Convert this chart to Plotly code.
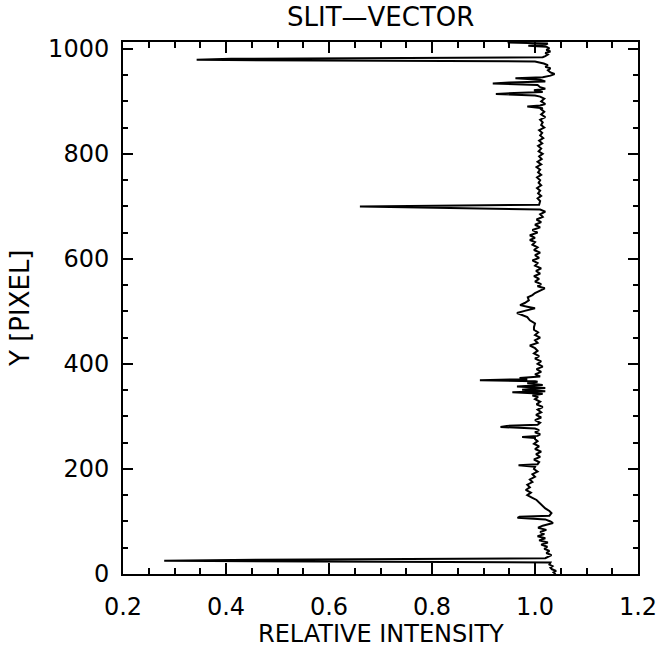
import plotly.graph_objects as go

# Y pixel positions along the slit (bottom -> top)
pixel_y = [
    0, 3, 6, 9, 12, 15, 18, 21, 22, 25, 27, 30,
    33, 36, 40, 44, 48, 52, 56, 60, 64, 68,
    72, 76, 80, 84, 88, 92, 97, 100, 104, 107,
    109, 111, 116, 120, 125, 130, 135, 141, 145, 150,
    155, 160, 165, 170, 175, 180, 185, 190, 195, 200,
    204, 207, 209, 213, 218, 223, 228, 233, 238, 243,
    248, 253, 257, 259, 261, 263, 266, 270, 274, 277,
    280, 282, 284, 288, 293, 298, 303, 308, 313, 318,
    323, 328, 333, 337, 340, 343, 346, 348, 351, 354,
    357, 360, 363, 366, 367, 369, 371, 373, 376, 380,
    385, 390, 395, 400, 405, 410, 415, 420, 425, 430,
    435, 440, 445, 450, 455, 460, 465, 470, 477, 483,
    489, 493, 497, 501, 506, 509, 512, 516, 521, 527,
    531, 535, 540, 544, 548, 552, 557, 562, 567, 572,
    577, 582, 587, 592, 597, 602, 607, 612, 617, 622,
    627, 632, 636, 640, 645, 650, 655, 660, 665, 670,
    675, 680, 685, 690, 694, 697, 700, 703, 710, 715,
    720, 725, 730, 735, 740, 745, 750, 755, 760, 765,
    770, 775, 780, 785, 790, 795, 800, 805, 810, 815,
    820, 825, 830, 835, 840, 845, 850, 855, 860, 865,
    870, 875, 880, 885, 887, 890, 892, 895, 900, 905,
    909, 911, 914, 916, 918, 921, 924, 927, 931, 934,
    936, 938, 941, 944, 946, 949, 952, 955, 959, 963,
    966, 969, 972, 976, 979, 981, 984, 986, 989, 992,
    995, 998, 1001, 1004, 1006, 1008, 1010, 1012, 1013,
]

# Relative intensity at each pixel
rel_intensity = [
    1.040, 1.036, 1.041, 1.033, 1.030, 1.034, 1.028, 1.031, 1.030, 0.280, 0.460, 1.020,
    1.025, 1.032, 1.022, 1.028, 1.018, 1.024, 1.012, 1.025, 1.008, 1.020,
    1.005, 1.018, 1.010, 1.022, 1.006, 1.015, 1.035, 1.030, 1.020, 0.966,
    0.970, 1.028, 1.032, 1.028, 1.020, 1.015, 1.008, 1.003, 0.995, 0.985,
    0.992, 0.982, 0.990, 0.985, 0.995, 0.990, 1.000, 0.995, 1.005, 0.998,
    1.000, 0.968, 1.005, 1.008, 0.998, 1.010, 1.002, 1.012, 1.000, 1.008,
    0.998, 1.005, 1.000, 1.000, 0.975, 1.005, 1.010, 1.000, 1.008, 1.000,
    0.933, 0.945, 1.005, 1.010, 1.000, 1.012, 1.002, 1.012, 1.005, 1.015,
    1.003, 1.010, 1.000, 1.006, 0.995, 1.015, 0.956, 1.020, 0.975, 1.020,
    0.965, 1.015, 0.985, 1.005, 1.000, 0.893, 0.985, 0.970, 1.010, 1.000,
    1.012, 1.003, 1.015, 1.005, 1.012, 1.000, 1.008, 0.998, 1.005, 1.000,
    0.990, 1.005, 1.000, 1.010, 1.000, 1.006, 0.998, 0.998, 1.000, 0.990,
    0.985, 0.975, 0.965, 0.980, 1.000, 0.985, 0.971, 0.980, 0.988, 0.986,
    0.995, 1.000, 1.010, 1.019, 1.005, 1.012, 1.000, 1.008, 0.998, 1.010,
    1.002, 1.012, 1.000, 1.005, 0.995, 1.008, 1.000, 1.010, 0.998, 1.005,
    0.995, 1.000, 0.990, 1.000, 0.990, 1.005, 0.995, 1.010, 1.000, 1.012,
    1.003, 1.015, 1.010, 1.020, 1.010, 0.820, 0.660, 1.008, 1.010, 1.005,
    1.012, 1.006, 1.010, 1.004, 1.012, 1.007, 1.010, 1.004, 1.012, 1.006,
    1.010, 1.003, 1.012, 1.005, 1.013, 1.008, 1.015, 1.007, 1.012, 1.006,
    1.014, 1.008, 1.016, 1.010, 1.014, 1.008, 1.018, 1.012, 1.015, 1.010,
    1.020, 1.012, 1.018, 1.012, 1.015, 0.985, 1.010, 1.020, 1.012, 1.018,
    1.010, 1.000, 0.924, 0.960, 1.015, 0.998, 1.020, 1.010, 1.005, 0.918,
    0.950, 1.020, 1.010, 0.962, 1.015, 1.030, 1.038, 1.030, 1.025, 1.030,
    1.020, 1.025, 1.017, 1.000, 0.343, 0.410, 1.015, 1.020, 1.025, 1.020,
    1.030, 1.022, 1.028, 1.022, 0.987, 1.020, 1.025, 0.947, 0.950,
]

x_ticks = [0.2, 0.4, 0.6, 0.8, 1.0, 1.2]
x_ticklabels = ["0.2", "0.4", "0.6", "0.8", "1.0", "1.2"]
y_ticks = [0, 200, 400, 600, 800, 1000]
y_ticklabels = ["0", "200", "400", "600", "800", "1000"]

FONT = "DejaVu Sans"

fig = go.Figure()
fig.add_trace(go.Scatter(
    x=rel_intensity, y=pixel_y, mode="lines",
    line=dict(color="black", width=2),
    showlegend=False, hoverinfo="skip",
))

axis_common = dict(
    showgrid=False, zeroline=False,
    showline=True, linecolor="black", linewidth=2,
    mirror="ticks", ticks="inside", tickcolor="black", tickwidth=2,
    tickfont=dict(family=FONT, size=24, color="black"),
)

fig.update_xaxes(
    range=[0.2, 1.2], tickvals=x_ticks, ticktext=x_ticklabels,
    ticklen=11, ticklabelstandoff=10,
    minor=dict(dtick=0.05, ticks="inside", ticklen=6, tickwidth=2, tickcolor="black"),
    **axis_common,
)
fig.update_yaxes(
    range=[0, 1013], tickvals=y_ticks, ticktext=y_ticklabels,
    ticklen=10, ticklabelstandoff=7,
    minor=dict(dtick=50, ticks="inside", ticklen=5, tickwidth=2, tickcolor="black"),
    **axis_common,
)

fig.update_layout(
    width=669, height=650,
    margin=dict(l=123, r=21, t=42, b=76),
    plot_bgcolor="white", paper_bgcolor="white",
    annotations=[
        dict(text="SLIT\u2014VECTOR", xref="paper", yref="paper", x=0.5, y=1.047,
             xanchor="center", yanchor="middle", showarrow=False,
             font=dict(family=FONT, size=26, color="black")),
        dict(text="RELATIVE INTENSITY", xref="paper", yref="paper", x=0.5, y=-0.112,
             xanchor="center", yanchor="middle", showarrow=False,
             font=dict(family=FONT, size=24, color="black")),
        dict(text="Y [PIXEL]", xref="paper", yref="paper", x=-0.2, y=0.5,
             xanchor="center", yanchor="middle", showarrow=False, textangle=-90,
             font=dict(family=FONT, size=26, color="black")),
    ],
)

fig.write_html("out.html")
